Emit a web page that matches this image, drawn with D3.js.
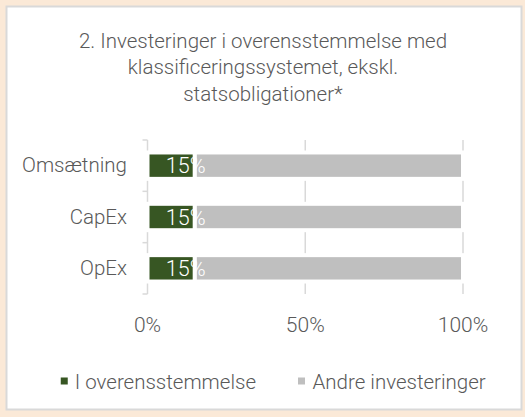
<!DOCTYPE html>
<html>
<head>
<meta charset="utf-8">
<script src="https://cdn.jsdelivr.net/npm/d3@7"></script>
<style>
  html, body { margin: 0; padding: 0; background: #fbe9d7; }
  svg text { font-family: Roboto, "Open Sans", sans-serif; font-weight: 300; fill: #595959; }
</style>
</head>
<body>
<div id="chart"></div>
<script>
// chart data
const titleLines = ["2. Investeringer i overensstemmelse med", "klassificeringssystemet, ekskl.", "statsobligationer*"];
const categories = ["Omsætning", "CapEx", "OpEx"];
const seriesNames = ["I overensstemmelse", "Andre investeringer"];
const compliant = [15, 15, 15];
const others = [85, 85, 85];
const xTicks = [0, 50, 100];

const W = 525, H = 417;
const green = "#375623", grey = "#bfbfbf", lineCol = "#d9d9d9";
const fs = "20.5px";

const svg = d3.select("#chart").append("svg")
    .attr("width", W)
    .attr("height", H);

// panel
svg.append("rect")
    .attr("x", 6.5).attr("y", 6.5)
    .attr("width", 515).attr("height", 403)
    .attr("fill", "white")
    .attr("stroke", lineCol)
    .attr("stroke-width", 2);

// title
svg.append("text")
    .attr("x", 263)
    .attr("text-anchor", "middle")
    .style("font-size", fs)
    .selectAll("tspan")
    .data(titleLines)
    .enter().append("tspan")
    .attr("x", 263)
    .attr("y", (d, i) => 48 + i * 26.3)
    .text(d => d);

// scales
const x = d3.scaleLinear().domain([0, 100]).range([147.5, 463]);
const y = d3.scaleBand().domain(categories).range([140, 294])
    .paddingInner(0.486).paddingOuter(0.243);

// gridlines
svg.append("g").selectAll("line")
    .data(xTicks.slice(1))
    .enter().append("line")
    .attr("x1", d => x(d)).attr("x2", d => x(d))
    .attr("y1", 140).attr("y2", 294)
    .attr("stroke", lineCol)
    .attr("stroke-width", 1.5);

// category axis
const yAxis = d3.axisLeft(y).tickSize(0).tickPadding(20.5);
const gy = svg.append("g")
    .attr("transform", `translate(${x(0)},0)`)
    .call(yAxis);
gy.select(".domain").remove();
gy.selectAll("text")
    .attr("fill", null)
    .attr("font-family", null)
    .style("font-size", fs);

// axis line and band ticks
const bounds = categories.map(c => y(c) - (y.step() - y.bandwidth()) / 2).concat([294]);
svg.append("line")
    .attr("x1", x(0)).attr("x2", x(0))
    .attr("y1", 140).attr("y2", 294)
    .attr("stroke", lineCol).attr("stroke-width", 1.5);
svg.append("g").selectAll("line")
    .data(bounds)
    .enter().append("line")
    .attr("x1", x(0) - 5).attr("x2", x(0))
    .attr("y1", d => d).attr("y2", d => d)
    .attr("stroke", lineCol).attr("stroke-width", 1.5);

// bars
const rows = categories.map((c, i) => ({cat: c, a: compliant[i], b: others[i]}));
const bars = svg.append("g");
bars.selectAll(".bar-a")
    .data(rows)
    .enter().append("rect")
    .attr("class", "bar-a")
    .attr("x", x(0))
    .attr("y", d => y(d.cat))
    .attr("width", d => x(d.a) - x(0))
    .attr("height", y.bandwidth())
    .attr("fill", green)
    .attr("stroke", "white")
    .attr("stroke-width", 4);
bars.selectAll(".bar-b")
    .data(rows)
    .enter().append("rect")
    .attr("class", "bar-b")
    .attr("x", d => x(d.a))
    .attr("y", d => y(d.cat))
    .attr("width", d => x(d.a + d.b) - x(d.a))
    .attr("height", y.bandwidth())
    .attr("fill", grey)
    .attr("stroke", "white")
    .attr("stroke-width", 4);

// value labels
svg.append("g").selectAll("text")
    .data(rows)
    .enter().append("text")
    .attr("x", d => x(d.a) - 29)
    .attr("y", d => y(d.cat) + y.bandwidth() / 2)
    .attr("dy", "0.36em")
    .style("font-size", "21.5px")
    .style("fill", "white")
    .text(d => d.a + "%");

// x tick labels
svg.append("g").selectAll("text")
    .data(xTicks)
    .enter().append("text")
    .attr("x", d => x(d))
    .attr("y", 332)
    .attr("text-anchor", "middle")
    .style("font-size", "21px")
    .text(d => d + "%");

// legend
const legend = svg.append("g");
const t1 = legend.append("text")
    .attr("x", 256).attr("y", 389)
    .attr("text-anchor", "end")
    .style("font-size", fs)
    .text(seriesNames[0]);
const w1 = t1.node().getComputedTextLength();
legend.append("rect")
    .attr("x", 256 - w1 - 14).attr("y", 377.5)
    .attr("width", 7).attr("height", 7)
    .attr("fill", green);
legend.append("rect")
    .attr("x", 298).attr("y", 377.5)
    .attr("width", 7).attr("height", 7)
    .attr("fill", grey);
legend.append("text")
    .attr("x", 312.5).attr("y", 389)
    .style("font-size", fs)
    .text(seriesNames[1]);
</script>
</body>
</html>
